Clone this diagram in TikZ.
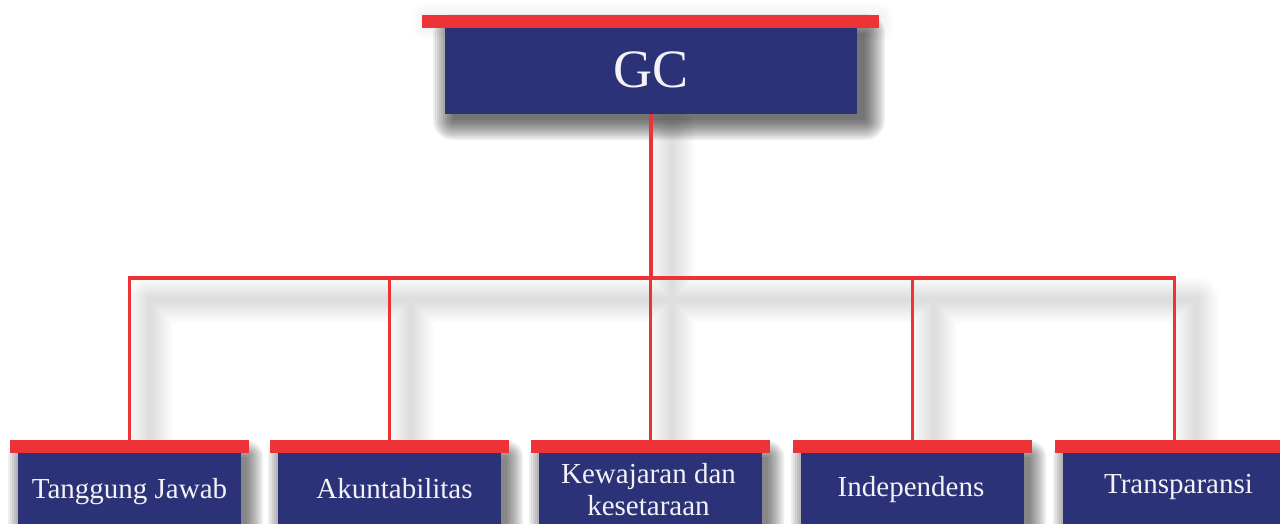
\documentclass[tikz,border=0pt]{standalone}
\usepackage{fontspec}
\setmainfont{Liberation Serif}
\definecolor{navy}{HTML}{2C3277}
\definecolor{bred}{HTML}{EE3338}
\definecolor{txt}{HTML}{F2F2F8}
\newcommand{\boxshade}[8]{%
  \foreach \r in {0,2,...,#7} {
    \fill[black, opacity=#8, rounded corners=\r pt]
      (#1+#5-\r, #2+#6-\r) rectangle (#3+#5+\r, #4+#6+\r);
  }%
}
\begin{document}
\begin{tikzpicture}[x=1pt,y=-1pt,
  box/.style={fill=navy, draw=none, inner sep=0pt, outer sep=0pt},
  bar/.style={fill=bred, draw=none, inner sep=0pt, outer sep=0pt, minimum width=239pt, minimum height=13pt},
  link/.style={draw=bred, line width=3.5pt, line join=miter},
  lbl/.style={text=txt, font=\fontsize{29}{32}\selectfont, inner sep=0pt, align=center},
  ghost/.style={draw=black, line join=round, line cap=round}]
\useasboundingbox (0,0) rectangle (1280,523);
\clip (0,0) rectangle (1280,523);
\fill[white] (0,0) rectangle (1280,523);

% positions
\coordinate (hub) at (651,278);

% soft shadows of connectors
\foreach \w in {46,42,...,6} {
  \draw[ghost, line width=\w pt, opacity=0.012]
    (150,442) -- (150,300) -- (1196,300) -- (1196,442)
    (411,300) -- (411,442) (672,300) -- (672,442) (934,300) -- (934,442)
    (672,130) -- (672,300);
}

% faint halo round the top bar
\boxshade{422}{15}{879}{28}{2}{0}{12}{0.006}

% shadows of boxes
\boxshade{445}{28}{857}{114}{8}{6}{20}{0.065}
\foreach \x in {18, 278, 539, 801, 1063} {
  \boxshade{\x}{453}{\x+223}{560}{6}{4}{16}{0.065}
}

% top box
\node[box, minimum width=412pt, minimum height=86pt] (gc) at (651,71) {};
\node[bar, minimum width=457pt] (topbar) at (650.5,21.5) {};
\node[text=txt, font=\fontsize{54}{60}\selectfont, inner sep=0pt] (gct) at (651,70) {GC};

% bottom boxes
\foreach \i/\x in {1/129.5, 2/389.5, 3/650.5, 4/912.5, 5/1174.5} {
  \node[box, minimum width=223pt, minimum height=90pt, anchor=north] (b\i) at (\x,453) {};
  \node[bar] (bar\i) at (\x,446.5) {};
}

% labels
\node[lbl, anchor=base] (l1) at (129.5,498) {Tanggung Jawab};
\node[lbl, anchor=base] (l2) at (394.5,498) {Akuntabilitas};
\node[lbl, anchor=center] (l3) at (648.5,490) {Kewajaran dan\\kesetaraan};
\node[lbl, anchor=base] (l4) at (911,496) {Independens};
\node[lbl, anchor=base] (l5) at (1178.5,493) {Transparansi};

% connectors
\draw[link] (gc.south) -- (hub);
\draw[link] (bar1.north) -- (bar1.north |- hub) -- (bar5.north |- hub) -- (bar5.north);
\foreach \i in {2,3,4} {
  \draw[link] (bar\i.north |- hub) -- (bar\i.north);
}
\end{tikzpicture}
\end{document}
